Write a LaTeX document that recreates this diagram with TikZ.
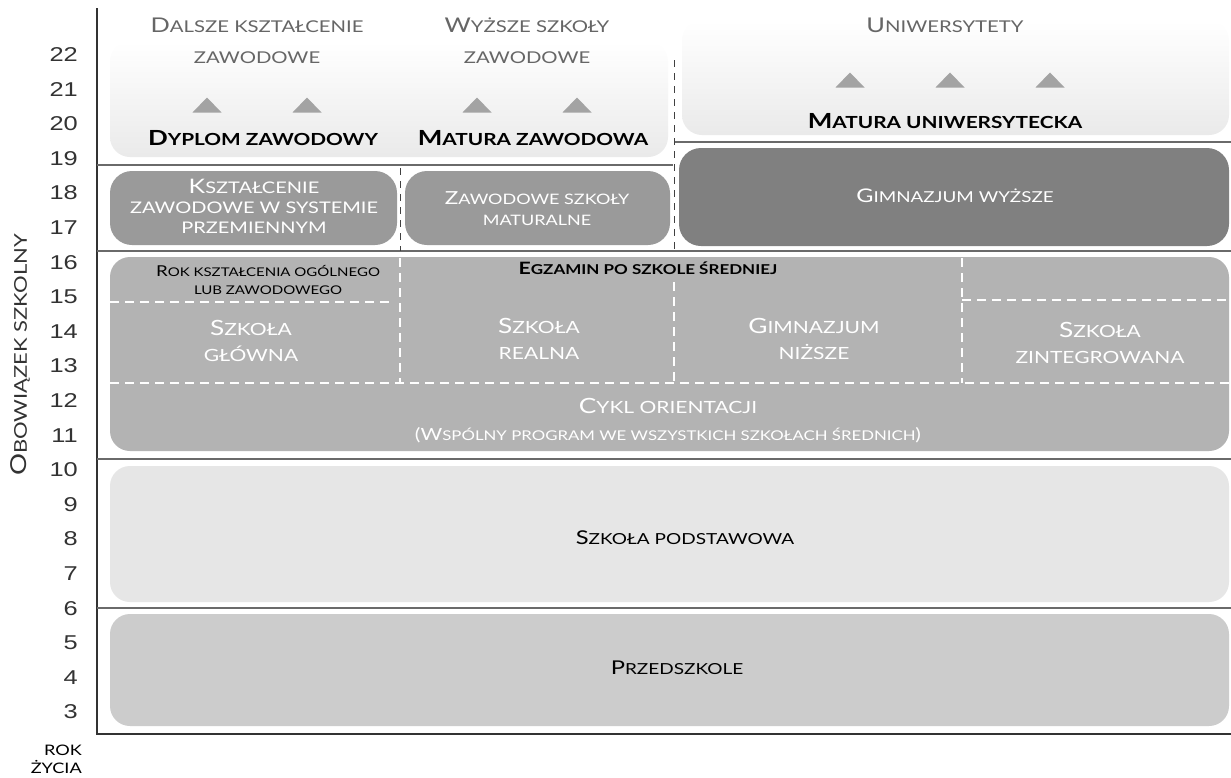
\documentclass[tikz,border=0pt]{standalone}
\usepackage{fontspec}
\setmainfont[FakeStretch=1.25]{Lato}
\newfontfamily\numfont[FakeStretch=1.27]{Liberation Sans}
\makeatletter
\newcommand\SC[2]{#1{\edef\scsz{\fpeval{0.8*\f@size}}\fontsize{\scsz}{\scsz}\selectfont #2}}
\makeatother
\definecolor{hdr}{HTML}{666666}
\definecolor{sepc}{HTML}{6A6A6A}
\definecolor{boxA}{HTML}{9A9A9A}
\definecolor{boxB}{HTML}{808080}
\definecolor{boxC}{HTML}{B3B3B3}
\definecolor{boxD}{HTML}{E6E6E6}
\definecolor{boxE}{HTML}{CCCCCC}
\definecolor{trifill}{HTML}{A3A3A3}
\definecolor{axisc}{HTML}{333333}
\begin{document}
\begin{tikzpicture}[x=1pt,y=-1pt,
  sepline/.style={draw=sepc,line width=1.3pt},
  blkdash/.style={draw=black!75,line width=1pt,dash pattern=on 7pt off 6pt},
  whdash/.style={draw=white,line width=1.5pt,dash pattern=on 9pt off 6pt},
  hdrtxt/.style={anchor=base,text=hdr,font=\fontsize{20.3}{20.3}\selectfont},
  boldtxt/.style={anchor=base,text=black,font=\fontsize{20.8}{20.8}\selectfont\bfseries},
  whtxt/.style={anchor=base,text=white,font=\fontsize{18}{18}\selectfont},
  bigwh/.style={anchor=base,text=white,font=\fontsize{21}{21}\selectfont},
  blktxt/.style={anchor=base,text=black,font=\fontsize{19}{19}\selectfont},
  agenum/.style={anchor=east,text=axisc,font=\numfont\fontsize{20}{20}\selectfont,inner sep=0pt},
  uptri/.pic={\fill[trifill] (-14.5,7.5) -- (14.5,7.5) -- (0,-7.5) -- cycle;}
]
\useasboundingbox (0,0) rectangle (1231,777);
\fill[white] (0,0) rectangle (1231,777);

% boxes
\shade[top color=white,bottom color=boxD!85,rounded corners=20pt] (110,42) rectangle (668,157);
\shade[top color=white,bottom color=boxD!85,rounded corners=20pt] (682,21) rectangle (1229,135);
\fill[boxB,rounded corners=22pt] (679,148) rectangle (1229,246);
\fill[boxA,rounded corners=22pt] (110,171) rectangle (397,245);
\fill[boxA,rounded corners=22pt] (405,171) rectangle (670,245);
\fill[boxC,rounded corners=20pt] (110,257) rectangle (1229,451);
\fill[boxD,rounded corners=20pt] (110,466) rectangle (1229,602);
\fill[boxE,rounded corners=20pt] (110,614) rectangle (1229,726);

% axis and separators
\coordinate (axtop) at (97,8);
\coordinate (axbot) at (97,734);
\coordinate (axend) at (1231,734);
\draw[draw=axisc,line width=1.4pt] (axtop) -- (axbot) -- (axend);
\coordinate (s1a) at (97,165); \coordinate (s1b) at (673,165);
\coordinate (s2a) at (675,142); \coordinate (s2b) at (1231,142);
\coordinate (s3a) at (97,251); \coordinate (s3b) at (1231,251);
\coordinate (s4a) at (97,459); \coordinate (s4b) at (1231,459);
\coordinate (s5a) at (97,608); \coordinate (s5b) at (1231,608);
\draw[sepline] (s1a) -- (s1b);
\draw[sepline] (s2a) -- (s2b);
\draw[sepline] (s3a) -- (s3b);
\draw[sepline] (s4a) -- (s4b);
\draw[sepline] (s5a) -- (s5b);

% black dashed verticals
\coordinate (d1a) at (400,168); \coordinate (d1b) at (400,251);
\coordinate (d2a) at (674,60); \coordinate (d2b) at (674,251);
\draw[blkdash] (d1a) -- (d1b);
\draw[blkdash] (d2a) -- (d2b);

% white dashed lines in the middle box
\coordinate (w1a) at (110,302); \coordinate (w1b) at (392,302);
\coordinate (w2a) at (400,258); \coordinate (w2b) at (400,383);
\coordinate (w3a) at (110,383); \coordinate (w3b) at (1229,383);
\coordinate (w4a) at (674,282); \coordinate (w4b) at (674,383);
\coordinate (w5a) at (962,258); \coordinate (w5b) at (962,383);
\coordinate (w6a) at (962,300); \coordinate (w6b) at (1229,300);
\draw[whdash] (w1a) -- (w1b);
\draw[whdash] (w2a) -- (w2b);
\draw[whdash] (w3a) -- (w3b);
\draw[whdash] (w4a) -- (w4b);
\draw[whdash] (w5a) -- (w5b);
\draw[whdash] (w6a) -- (w6b);

% triangles
\pic at (207,105) {uptri};
\pic at (307,105) {uptri};
\pic at (477,105) {uptri};
\pic at (577,105) {uptri};
\pic at (850,80) {uptri};
\pic at (950,80) {uptri};
\pic at (1050,80) {uptri};

% header texts
\node[hdrtxt] (dk1) at (257,32) {\SC{D}{ALSZE KSZTAŁCENIE}};
\node[hdrtxt] (dk2) at (257,63) {\SC{}{ZAWODOWE}};
\node[hdrtxt] (ws1) at (527,32) {\SC{W}{YŻSZE SZKOŁY}};
\node[hdrtxt] (ws2) at (527,63) {\SC{}{ZAWODOWE}};
\node[hdrtxt] (uni) at (945,32) {\SC{U}{NIWERSYTETY}};

% bold diplomas
\node[boldtxt] (dyp) at (263,145) {\SC{D}{YPLOM ZAWODOWY}};
\node[boldtxt] (matz) at (533,145) {\SC{M}{ATURA ZAWODOWA}};
\node[boldtxt] (matu) at (945,128) {\SC{M}{ATURA UNIWERSYTECKA}};

% vocational boxes
\node[whtxt,font=\fontsize{20}{20}\selectfont] (kz1) at (254,193) {\SC{K}{SZTAŁCENIE}};
\node[whtxt,font=\fontsize{20}{20}\selectfont] (kz2) at (254,213) {\SC{}{ZAWODOWE W SYSTEMIE}};
\node[whtxt,font=\fontsize{20}{20}\selectfont] (kz3) at (254,233) {\SC{}{PRZEMIENNYM}};
\node[whtxt] (zs1) at (537,204) {\SC{Z}{AWODOWE SZKOŁY}};
\node[whtxt] (zs2) at (537,225) {\SC{}{MATURALNE}};
\node[whtxt,font=\fontsize{18.8}{18.8}\selectfont] (gw) at (955,202) {\SC{G}{IMNAZJUM WYŻSZE}};

% middle box
\node[anchor=base,text=black,font=\fontsize{15}{15}\selectfont] (rk1) at (268,276) {\SC{R}{OK KSZTAŁCENIA OGÓLNEGO}};
\node[anchor=base,text=black,font=\fontsize{15}{15}\selectfont] (rk2) at (268,294) {\SC{}{LUB ZAWODOWEGO}};
\node[anchor=base,text=black,font=\fontsize{17}{17}\selectfont\bfseries] (egz) at (648,274) {\SC{E}{GZAMIN PO SZKOLE ŚREDNIEJ}};
\node[bigwh] (sg1) at (251,335) {\SC{S}{ZKOŁA}};
\node[bigwh] (sg2) at (251,361) {\SC{}{GŁÓWNA}};
\node[bigwh] (sr1) at (539,333) {\SC{S}{ZKOŁA}};
\node[bigwh] (sr2) at (539,359) {\SC{}{REALNA}};
\node[bigwh] (gn1) at (814,333) {\SC{G}{IMNAZJUM}};
\node[bigwh] (gn2) at (814,359) {\SC{}{NIŻSZE}};
\node[bigwh] (sz1) at (1100,337) {\SC{S}{ZKOŁA}};
\node[bigwh] (sz2) at (1100,363) {\SC{}{ZINTEGROWANA}};
\node[bigwh] (cyk) at (668,413) {\SC{C}{YKL ORIENTACJI}};
\node[anchor=base,text=white,font=\fontsize{16.8}{16.8}\selectfont] (wsp) at (668,440) {\SC{(W}{SPÓLNY PROGRAM WE WSZYSTKICH SZKOŁACH ŚREDNICH}\SC{)}{}};

% lower boxes
\node[blktxt] (pod) at (685,544) {\SC{S}{ZKOŁA PODSTAWOWA}};
\node[blktxt] (prz) at (677,674) {\SC{P}{RZEDSZKOLE}};

% axis labels
\node[anchor=base,text=axisc,rotate=90,font=\fontsize{22}{22}\selectfont] (obw) at (27,355) {\SC{O}{BOWIĄZEK SZKOLNY}};
\node[anchor=base east,text=black,font=\fontsize{14.5}{14.5}\selectfont,inner sep=0pt] (rok1) at (82,755) {ROK};
\node[anchor=base east,text=black,font=\fontsize{14.5}{14.5}\selectfont,inner sep=0pt] (rok2) at (82,773) {ŻYCIA};

% age numbers
\foreach \n in {3,...,22} {
  \node[agenum] (age\n) at (78,{712-(\n-3)*34.6}) {\n};
}
\end{tikzpicture}
\end{document}
